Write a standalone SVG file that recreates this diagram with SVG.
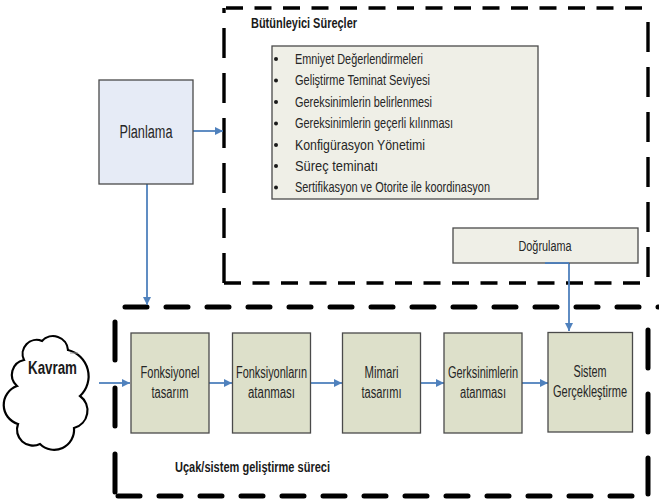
<svg xmlns="http://www.w3.org/2000/svg" width="659" height="500" viewBox="0 0 659 500">
  <defs>
    <marker id="arrow" viewBox="0 0 8 8" refX="8" refY="4" markerWidth="8" markerHeight="8" markerUnits="userSpaceOnUse" orient="auto">
      <path d="M0,0 L8,4 L0,8 z" fill="#4F81BD"/>
    </marker>
    <style>
      .txt { font-family: "Liberation Sans", Arial, sans-serif; fill: #262626; }
      .bold { font-weight: bold; fill: #1a1a1a; }
      .lbl { font-size: 16px; text-anchor: middle; }
      .list { font-size: 14.5px; }
      .step { fill: #DDE0CA; stroke: #4a4a4a; stroke-width: 1.3; }
      .panel { fill: #EFEFE7; stroke: #4a4a4a; stroke-width: 1.3; }
      .frameA { fill: none; stroke: #000; stroke-width: 3.4; }
      .frameB { fill: none; stroke: #000; stroke-width: 5; stroke-linecap: round; }
      .conn { fill: none; stroke: #4F81BD; stroke-width: 1.8; }
    </style>
  </defs>

  <rect width="659" height="500" fill="#ffffff"/>

  <!-- Integral processes frame -->
  <g id="frame-integral">
    <path class="frameA" d="M226,8 H648" stroke-dasharray="17 11.5"/>
    <path class="frameA" d="M224,283 V8" stroke-dasharray="30 15"/>
    <path class="frameA" d="M648,22 V283" stroke-dasharray="30 15"/>
    <path class="frameA" d="M224,283 H646" stroke-dasharray="17 11.5" stroke-dashoffset="0"/>
    <text class="txt bold" x="251" y="28" font-size="14" textLength="106" lengthAdjust="spacingAndGlyphs">Bütünleyici Süreçler</text>
  </g>

  <!-- Development process frame -->
  <g id="frame-development">
    <path class="frameB" d="M125,307 H659" stroke-dasharray="22 19"/>
    <path class="frameB" d="M115,322 V493" stroke-dasharray="38 28"/>
    <path class="frameB" d="M648,330 V494" stroke-dasharray="38 26"/>
    <path class="frameB" d="M118,496 H645" stroke-dasharray="22 19"/>
    <text class="txt bold" x="175" y="472" font-size="14" textLength="155" lengthAdjust="spacingAndGlyphs">Uçak/sistem geliştirme süreci</text>
  </g>

  <!-- Connectors -->
  <g id="connectors">
    <path class="conn" d="M193,131 H223" marker-end="url(#arrow)"/>
    <path class="conn" d="M147,184 V305" marker-end="url(#arrow)"/>
    <path class="conn" d="M545,263 H569 V331" marker-end="url(#arrow)"/>
    <path class="conn" d="M99,383 H130" marker-end="url(#arrow)"/>
    <path class="conn" d="M209,383 H232" marker-end="url(#arrow)"/>
    <path class="conn" d="M311,383 H342" marker-end="url(#arrow)"/>
    <path class="conn" d="M421,383 H444" marker-end="url(#arrow)"/>
    <path class="conn" d="M522,383 H548" marker-end="url(#arrow)"/>
  </g>

  <!-- Planning -->
  <g id="node-planlama">
    <rect x="99" y="80" width="94" height="104" fill="#E6EBF6" stroke="#4a4a4a" stroke-width="1.3"/>
    <text class="txt" x="146" y="138" font-size="18" text-anchor="middle" textLength="53" lengthAdjust="spacingAndGlyphs">Planlama</text>
  </g>

  <!-- Integral process list -->
  <g id="node-list">
    <rect class="panel" x="272" y="46" width="266" height="153"/>
    <g fill="#1a1a1a">
      <circle cx="276" cy="59" r="2"/>
      <circle cx="276" cy="80.5" r="2"/>
      <circle cx="276" cy="102" r="2"/>
      <circle cx="276" cy="123.5" r="2"/>
      <circle cx="276" cy="145" r="2"/>
      <circle cx="276" cy="166" r="2"/>
      <circle cx="276" cy="187.5" r="2"/>
    </g>
    <text class="txt list" x="295" y="63.5" textLength="128" lengthAdjust="spacingAndGlyphs">Emniyet Değerlendirmeleri</text>
    <text class="txt list" x="295" y="85" textLength="135" lengthAdjust="spacingAndGlyphs">Geliştirme Teminat Seviyesi</text>
    <text class="txt list" x="295" y="106.5" textLength="137" lengthAdjust="spacingAndGlyphs">Gereksinimlerin belirlenmesi</text>
    <text class="txt list" x="295" y="128" textLength="158" lengthAdjust="spacingAndGlyphs">Gereksinimlerin geçerli kılınması</text>
    <text class="txt list" x="295" y="149.5" textLength="130" lengthAdjust="spacingAndGlyphs">Konfigürasyon Yönetimi</text>
    <text class="txt list" x="295" y="170.5" textLength="83" lengthAdjust="spacingAndGlyphs">Süreç teminatı</text>
    <text class="txt list" x="295" y="192" textLength="195" lengthAdjust="spacingAndGlyphs">Sertifikasyon ve Otorite ile koordinasyon</text>
  </g>

  <!-- Verification -->
  <g id="node-dogrulama">
    <rect class="panel" x="453" y="228" width="185" height="35"/>
    <path class="conn" d="M545,263 H569"/>
    <text class="txt" x="545" y="251" font-size="14" text-anchor="middle" textLength="53" lengthAdjust="spacingAndGlyphs">Doğrulama</text>
  </g>

  <!-- Concept cloud -->
  <g id="node-kavram">
    <path d="M24,360 A14,14 0 0 1 42,341 A15,15 0 0 1 68,350 A27,27 0 0 1 80,396 A18,18 0 0 1 74,428 A20,20 0 0 1 40,444 A16,16 0 0 1 18,424 A20,20 0 0 1 17,386 A15,15 0 0 1 24,360 Z" fill="#ffffff" stroke="#000" stroke-width="2.2"/>
    <path d="M70,353 H78" stroke="#9a9a9a" stroke-width="1"/>
    <text class="txt bold" x="52.5" y="374" font-size="19" text-anchor="middle" textLength="49" lengthAdjust="spacingAndGlyphs">Kavram</text>
  </g>

  <!-- Development steps -->
  <g id="node-fonksiyonel">
    <rect class="step" x="131" y="333" width="78" height="100"/>
    <text class="txt lbl" x="170" y="377.5" textLength="59" lengthAdjust="spacingAndGlyphs">Fonksiyonel</text>
    <text class="txt lbl" x="170" y="397.5" textLength="37" lengthAdjust="spacingAndGlyphs">tasarım</text>
  </g>
  <g id="node-atama">
    <rect class="step" x="232.5" y="333" width="78" height="100"/>
    <text class="txt lbl" x="271.5" y="377.5" textLength="71" lengthAdjust="spacingAndGlyphs">Fonksiyonların</text>
    <text class="txt lbl" x="271.5" y="397.5" textLength="47" lengthAdjust="spacingAndGlyphs">atanması</text>
  </g>
  <g id="node-mimari">
    <rect class="step" x="342.5" y="333" width="78" height="100"/>
    <text class="txt lbl" x="381.5" y="377.5" textLength="34" lengthAdjust="spacingAndGlyphs">Mimari</text>
    <text class="txt lbl" x="381.5" y="397.5" textLength="40" lengthAdjust="spacingAndGlyphs">tasarımı</text>
  </g>
  <g id="node-gereksinim">
    <rect class="step" x="444" y="333" width="78" height="100"/>
    <text class="txt lbl" x="483" y="377.5" textLength="70" lengthAdjust="spacingAndGlyphs">Gerksinimlerin</text>
    <text class="txt lbl" x="483" y="397.5" textLength="46" lengthAdjust="spacingAndGlyphs">atanması</text>
  </g>
  <g id="node-sistem">
    <rect class="step" x="548" y="332.5" width="84.5" height="99.5"/>
    <text class="txt lbl" x="590" y="376.5" textLength="33" lengthAdjust="spacingAndGlyphs">Sistem</text>
    <text class="txt lbl" x="590" y="397" textLength="74" lengthAdjust="spacingAndGlyphs">Gerçekleştirme</text>
  </g>
</svg>
